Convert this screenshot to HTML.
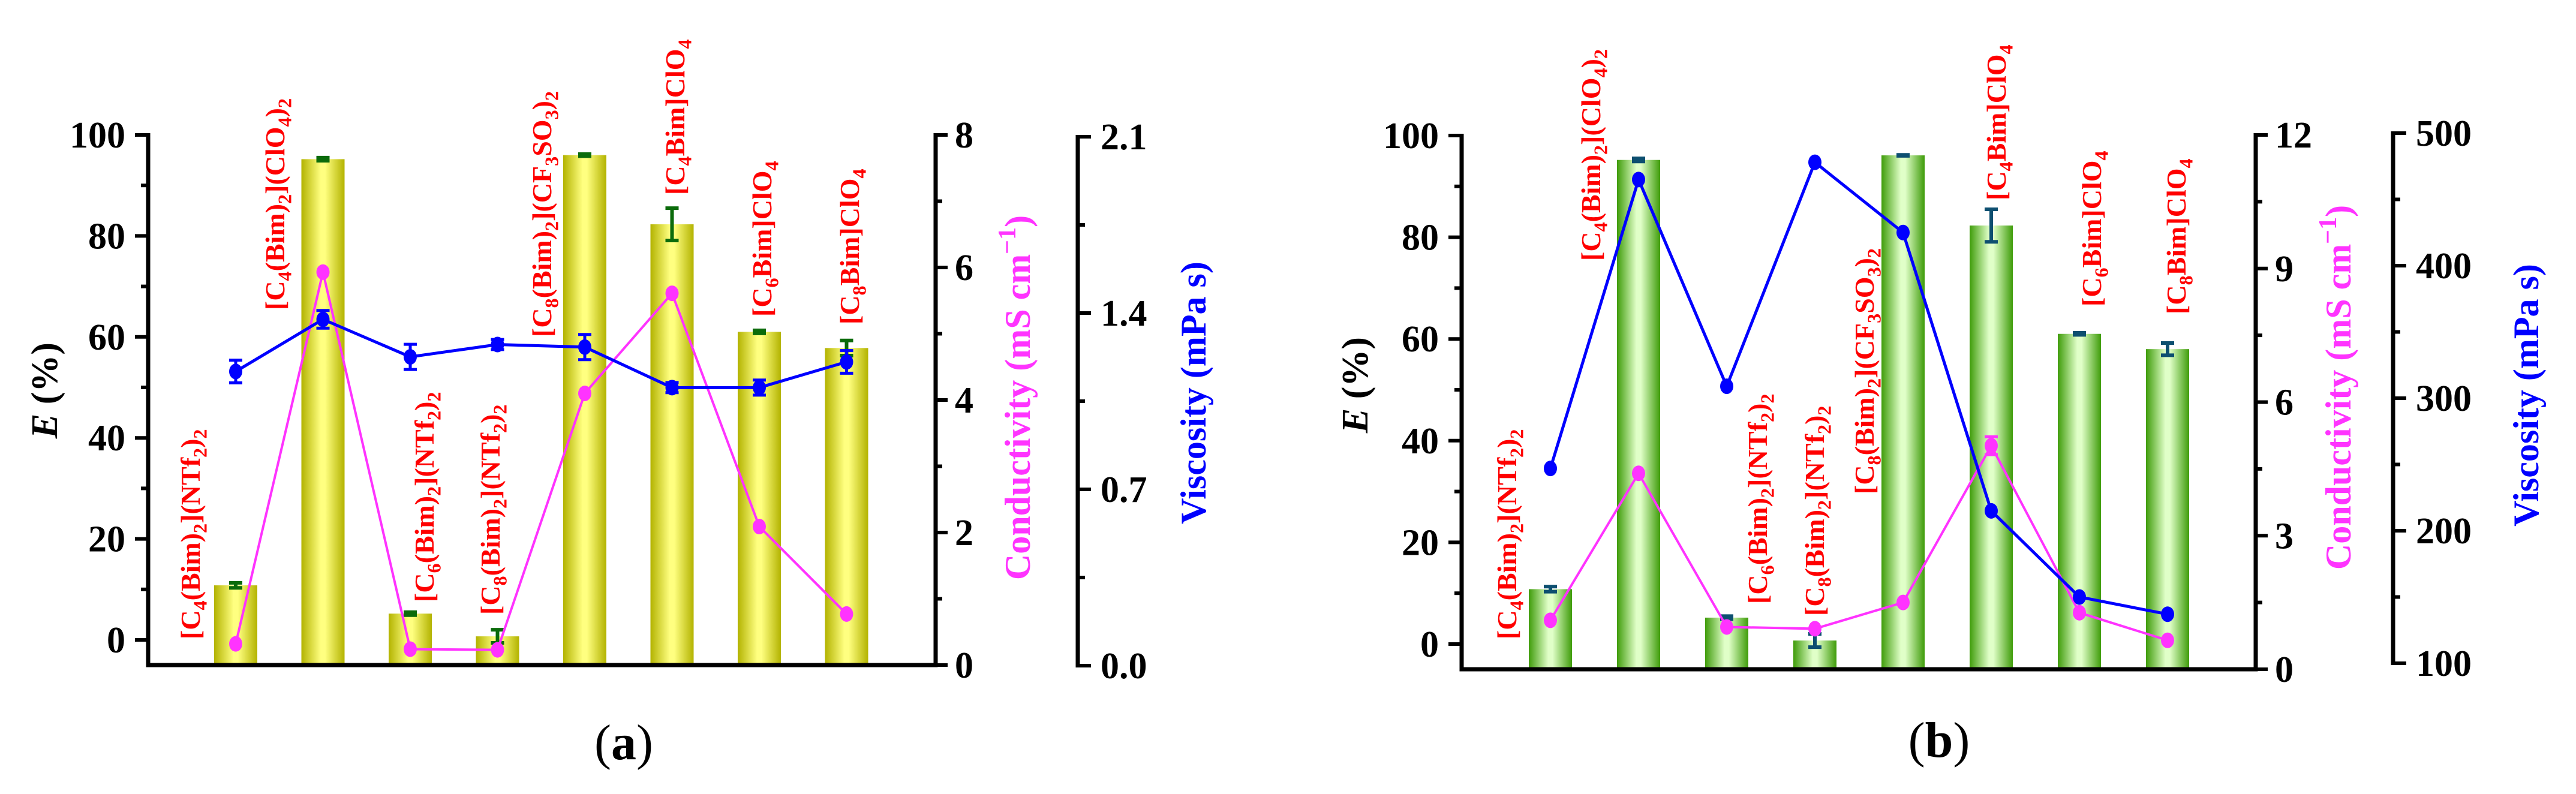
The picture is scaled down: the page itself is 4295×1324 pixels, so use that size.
<!DOCTYPE html>
<html><head><meta charset="utf-8"><style>
html,body{margin:0;padding:0;background:#fff;}
svg{display:block;font-family:"Liberation Serif",serif;}
</style></head><body>
<svg id="chart" width="4295" height="1324" viewBox="0 0 4295 1324" xmlns="http://www.w3.org/2000/svg">
<defs>
<linearGradient id="gy" x1="0" x2="1" y1="0" y2="0">
<stop offset="0" stop-color="#b3b300"/><stop offset="0.45" stop-color="#ffff80"/><stop offset="0.55" stop-color="#ffff80"/><stop offset="1" stop-color="#b3b300"/></linearGradient>
<linearGradient id="gg" x1="0" x2="1" y1="0" y2="0">
<stop offset="0" stop-color="#3f9c0a"/><stop offset="0.45" stop-color="#e0ffc8"/><stop offset="0.55" stop-color="#e0ffc8"/><stop offset="1" stop-color="#3f9c0a"/></linearGradient>
</defs>
</svg>
<script>
// ---- data ----
const categories = ["[C4(Bim)2](NTf2)2","[C4(Bim)2](ClO4)2","[C6(Bim)2](NTf2)2","[C8(Bim)2](NTf2)2","[C8(Bim)2](CF3SO3)2","[C4Bim]ClO4","[C6Bim]ClO4","[C8Bim]ClO4"];
const eA = [10.8, 95.2, 5.2, 0.7, 96.0, 82.3, 61.0, 57.8];
const eErrA = [0.5, 0.3, 0.3, 1.3, 0.2, 3.2, 0.3, 1.5];
const condA = [0.32, 5.93, 0.24, 0.23, 4.10, 5.61, 2.09, 0.77];
const viscA = [1.168, 1.375, 1.226, 1.275, 1.265, 1.104, 1.104, 1.206];
const viscErrA = [0.045, 0.035, 0.05, 0.02, 0.05, 0.02, 0.03, 0.045];
const eB = [10.8, 95.2, 5.2, 0.7, 96.1, 82.3, 61.0, 58.0];
const eErrB = [0.5, 0.3, 0.3, 1.3, 0.1, 3.2, 0.2, 1.2];
const condB = [1.10, 4.40, 0.95, 0.91, 1.50, 5.02, 1.27, 0.65];
const condErrB = [0, 0, 0, 0, 0, 0.2, 0, 0];
const viscB = [247, 465, 309, 478, 425, 215, 150, 137];
const eTicks = [0, 20, 40, 60, 80, 100];
const condTicksA = [0, 2, 4, 6, 8];
const viscTicksA = ["0.0", "0.7", "1.4", "2.1"];
const condTicksB = [0, 3, 6, 9, 12];
const viscTicksB = [100, 200, 300, 400, 500];

const svg = document.getElementById('chart');
const NS = 'http://www.w3.org/2000/svg';
function mk(tag, attrs, parent){ const e=document.createElementNS(NS,tag); for(const k in attrs) e.setAttribute(k,attrs[k]); (parent||svg).appendChild(e); return e; }

function formula(parent, str, x, y, size, color){
  const t = mk('text',{x:x,y:y,'font-size':size,'font-weight':'bold',fill:color,transform:`rotate(-90 ${x} ${y})`},parent);
  
  
  const parts = str.match(/\d+|[^\d]+/g);
  let sub=false;
  parts.forEach(p=>{
    const s=document.createElementNS(NS,'tspan');
    if(/^\d+$/.test(p)){ s.setAttribute('font-size',size*0.7); s.setAttribute('dy',size*0.25); sub=true; }
    else if(sub){ s.setAttribute('dy',-size*0.25); sub=false; }
    s.textContent=p; t.appendChild(s);
  });
  return t;
}

function panel(cfg){
  const g = mk('g',{});
  
  
  const yE = v => cfg.e0 + (cfg.e100 - cfg.e0) * v / 100;
  const yC = v => cfg.bottom + (cfg.top - cfg.bottom) * v / cfg.cMax;
  const yV = v => cfg.vBot + (cfg.vTop - cfg.vBot) * (v - cfg.vMin) / (cfg.vMax - cfg.vMin);
  const xC = i => cfg.x0 + i * cfg.step;
  const bw = 72;
  cfg.e.forEach((v,i)=>{
    const r = mk('rect',{x:xC(i)-bw/2,y:yE(v),width:bw,height:cfg.bottom-yE(v),fill:cfg.grad},g);
    
    
    const hi=yE(v+cfg.eErr[i]), lo=yE(v-cfg.eErr[i]);
    const eb = mk('path',{d:`M${xC(i)-11},${hi}H${xC(i)+11}M${xC(i)},${hi}V${lo}M${xC(i)-11},${lo}H${xC(i)+11}`,stroke:cfg.errColor,'stroke-width':6,fill:'none'},g);
    
    
  });
  const pc = cfg.c.map((v,i)=>`${xC(i)},${yC(v)}`).join(' ');
  const lc = mk('polyline',{points:pc,fill:'none',stroke:'#ff33ff','stroke-width':4},g);
  
  
  const pv = cfg.v.map((v,i)=>`${xC(i)},${yV(v)}`).join(' ');
  const lv = mk('polyline',{points:pv,fill:'none',stroke:'#0000ff','stroke-width':5},g);
  
  
  cfg.c.forEach((v,i)=>{
    if(cfg.cErr && cfg.cErr[i]){ const a=yC(v+cfg.cErr[i]), b=yC(v-cfg.cErr[i]);
      const ce=mk('path',{d:`M${xC(i)-11},${a}H${xC(i)+11}M${xC(i)},${a}V${b}M${xC(i)-11},${b}H${xC(i)+11}`,stroke:'#ff33ff','stroke-width':5,fill:'none'},g);
      
       }
    const m = mk('ellipse',{cx:xC(i),cy:yC(v),rx:11,ry:13,fill:'#ff33ff'},g);
    
    
  });
  cfg.v.forEach((v,i)=>{
    if(cfg.vErr){ const a=yV(v+cfg.vErr[i]), b=yV(v-cfg.vErr[i]);
      const ve=mk('path',{d:`M${xC(i)-11},${a}H${xC(i)+11}M${xC(i)},${a}V${b}M${xC(i)-11},${b}H${xC(i)+11}`,stroke:'#0000ff','stroke-width':5,fill:'none'},g);
      
       }
    const m = mk('ellipse',{cx:xC(i),cy:yV(v),rx:11,ry:13,fill:'#0000ff'},g);
    
    
  });
  const ax = mk('path',{d:`M${cfg.left},${cfg.e100-3}V${cfg.bottom}H${cfg.right}V${cfg.top-3}`,stroke:'#000','stroke-width':7,fill:'none'},g);
  
  
  eTicks.forEach((t,k)=>{
    const y=yE(t);
    mk('line',{x1:cfg.left-22,x2:cfg.left,y1:y,y2:y,stroke:'#000','stroke-width':6},g);
    if(k<eTicks.length-1){ const ym=yE(t+10); mk('line',{x1:cfg.left-12,x2:cfg.left,y1:ym,y2:ym,stroke:'#000','stroke-width':6},g); }
    const tl = mk('text',{x:cfg.left-38,y:y+21,'font-size':62,'font-weight':'bold','text-anchor':'end'},g);
     
    tl.textContent=t;
  });
  cfg.cTicks.forEach((t,k)=>{
    const y=yC(t);
    mk('line',{x1:cfg.right,x2:cfg.right+20,y1:y,y2:y,stroke:'#000','stroke-width':6},g);
    if(k<cfg.cTicks.length-1){ const ym=yC(t+cfg.cStep/2); mk('line',{x1:cfg.right,x2:cfg.right+11,y1:ym,y2:ym,stroke:'#000','stroke-width':6},g); }
    const tl = mk('text',{x:cfg.right+32,y:y+21,'font-size':62,'font-weight':'bold'},g);
     
    tl.textContent=t;
  });
  const va = mk('line',{x1:cfg.vAxis,x2:cfg.vAxis,y1:cfg.vTop-3,y2:cfg.vBot+3,stroke:'#000','stroke-width':7},g);
   
  cfg.vTicks.forEach((t,k)=>{
    const y=yV(+t);
    mk('line',{x1:cfg.vAxis,x2:cfg.vAxis+22,y1:y,y2:y,stroke:'#000','stroke-width':6},g);
    if(k<cfg.vTicks.length-1){ const ym=yV(+t+cfg.vStep/2); mk('line',{x1:cfg.vAxis,x2:cfg.vAxis+12,y1:ym,y2:ym,stroke:'#000','stroke-width':6},g); }
    const tl = mk('text',{x:cfg.vAxis+38,y:y+21,'font-size':62,'font-weight':'bold'},g);
     
    tl.textContent=t;
  });
  categories.forEach((c,i)=>{ formula(g, c, cfg.lab[i][0]+16, cfg.lab[i][1], 46, '#ff0000'); });
  const et = mk('text',{x:cfg.eT[0]+20,y:cfg.eT[1],'font-size':62,'font-weight':'bold','text-anchor':'middle',transform:`rotate(-90 ${cfg.eT[0]+20} ${cfg.eT[1]})`},g);
   
  et.innerHTML='<tspan font-style="italic">E</tspan> (%)';
  const ct = mk('text',{x:cfg.cT[0]+20,y:cfg.cT[1],'font-size':60,'font-weight':'bold','text-anchor':'middle',fill:'#ff33ff',transform:`rotate(-90 ${cfg.cT[0]+20} ${cfg.cT[1]})`},g);
   
  ct.innerHTML='Conductivity (mS cm<tspan font-size="42" dy="-24">−1</tspan><tspan dy="24">)</tspan>';
  const vt = mk('text',{x:cfg.vT[0]+20,y:cfg.vT[1],'font-size':60,'font-weight':'bold','text-anchor':'middle',fill:'#0000ff',transform:`rotate(-90 ${cfg.vT[0]+20} ${cfg.vT[1]})`},g);
   
  vt.textContent='Viscosity (mPa s)';
  const cap = mk('text',{x:cfg.cap[0],y:cfg.cap[1]+28,'font-size':84,'text-anchor':'middle'},g);
   
  cap.innerHTML=cfg.capText;
}

panel({name:'panel-a',e:eA,eErr:eErrA,c:condA,v:viscA,vErr:viscErrA,grad:'url(#gy)',errColor:'#0b6b0b',
  x0:393,step:145.5,left:247,right:1560,top:225,bottom:1109,e0:1067,e100:225,
  cMax:8,cStep:2,cTicks:condTicksA,vAxis:1797,vTop:228,vBot:1110,vMin:0,vMax:2.1,vStep:0.7,vTicks:viscTicksA,
  lab:[[317,1066],[458,517],[707,1004],[817,1025],[903,562],[1125,325],[1270,528],[1416,541]],
  eT:[75,651],cT:[1697,663],vT:[1990,655],cap:[1040,1238],capText:'(<tspan font-weight="bold">a</tspan>)'});
panel({name:'panel-b',e:eB,eErr:eErrB,c:condB,cErr:condErrB,v:viscB,grad:'url(#gg)',errColor:'#0d4f70',
  x0:2585,step:147,left:2437,right:3761,top:225,bottom:1116,e0:1074,e100:226,
  cMax:12,cStep:3,cTicks:condTicksB,vAxis:3990,vTop:222,vBot:1106,vMin:100,vMax:500,vStep:100,vTicks:viscTicksB,
  lab:[[2512,1066],[2652,435],[2930,1007],[3025,1027],[3108,824],[3328,334],[3487,511],[3628,524]],
  eT:[2260,642],cT:[3899,646],vT:[4212,659],cap:[3233,1234],capText:'(<tspan font-weight="bold">b</tspan>)'});
</script>
</body></html>
